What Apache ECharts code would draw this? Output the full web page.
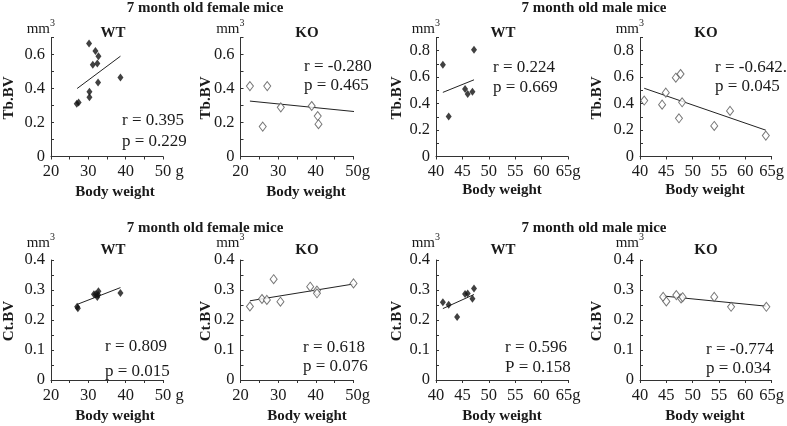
<!DOCTYPE html>
<html><head><meta charset="utf-8">
<script src="https://cdn.jsdelivr.net/npm/echarts@6/dist/echarts.min.js"></script>
<style>html,body{margin:0;padding:0;background:#fff}#c{width:787px;height:426px}</style>
</head><body><div id="c"></div>
<script>
// ---- Data ----
const wtFemTbX = [30.2, 31.9, 32.7, 31.2, 32.4, 32.6, 38.6, 30.3, 30.3, 26.9, 27.4];
const wtFemTbY = [0.664, 0.621, 0.59, 0.539, 0.547, 0.436, 0.465, 0.381, 0.348, 0.31, 0.318];
const wtFemTbFitX = [27.0, 38.6];
const wtFemTbFitY = [0.40, 0.59];

const koFemTbX = [22.5, 27.1, 25.9, 30.7, 38.9, 40.5, 40.7, 50.4];
const koFemTbY = [0.414, 0.414, 0.176, 0.289, 0.297, 0.238, 0.19, 0.355];
const koFemTbFitX = [22.5, 50.4];
const koFemTbFitY = [0.326, 0.264];

const wtMalTbX = [41.3, 47.2, 42.4, 45.5, 46.0, 46.9];
const wtMalTbY = [0.694, 0.808, 0.303, 0.51, 0.472, 0.49];
const wtMalTbFitX = [41.3, 47.2];
const wtMalTbFitY = [0.485, 0.58];

const koMalTbX = [40.8, 44.2, 44.9, 46.8, 47.7, 47.4, 48.0, 54.1, 57.1, 63.9];
const koMalTbY = [0.423, 0.392, 0.483, 0.596, 0.624, 0.289, 0.41, 0.231, 0.345, 0.158];
const koMalTbFitX = [40.8, 63.9];
const koMalTbFitY = [0.516, 0.199];

const wtFemCtX = [27.0, 27.2, 31.5, 32.0, 32.4, 32.7, 32.6, 38.6];
const wtFemCtY = [0.244, 0.239, 0.286, 0.286, 0.277, 0.296, 0.284, 0.29];
const wtFemCtFitX = [27.0, 38.6];
const wtFemCtFitY = [0.252, 0.308];

const koFemCtX = [22.5, 25.7, 27.0, 28.8, 30.6, 38.5, 40.3, 40.3, 50.0];
const koFemCtY = [0.245, 0.27, 0.267, 0.336, 0.261, 0.311, 0.298, 0.289, 0.322];
const koFemCtFitX = [22.5, 50.0];
const koFemCtFitY = [0.264, 0.32];

const wtMalCtX = [41.3, 42.4, 44.0, 45.5, 46.0, 46.9, 47.2];
const wtMalCtY = [0.259, 0.251, 0.21, 0.287, 0.288, 0.271, 0.305];
const wtMalCtFitX = [41.3, 47.2];
const wtMalCtFitY = [0.238, 0.285];

const koMalCtX = [44.4, 45.0, 46.9, 47.8, 48.1, 54.1, 57.3, 64.0];
const koMalCtY = [0.277, 0.262, 0.283, 0.272, 0.276, 0.277, 0.244, 0.244];
const koMalCtFitX = [44.4, 64.0];
const koMalCtFitY = [0.28, 0.246];

const rowTitles = ['7 month old female mice', '7 month old male mice'];
const groupNames = ['WT', 'KO', 'WT', 'KO', 'WT', 'KO', 'WT', 'KO'];
const yNames = ['Tb.BV', 'Tb.BV', 'Tb.BV', 'Tb.BV', 'Ct.BV', 'Ct.BV', 'Ct.BV', 'Ct.BV'];
const xName = 'Body weight';
const rTexts = ['r = 0.395', 'r = -0.280', 'r = 0.224', 'r = -0.642.', 'r = 0.809', 'r = 0.618', 'r = 0.596', 'r = -0.774'];
const pTexts = ['p = 0.229', 'p = 0.465', 'p = 0.669', 'p = 0.045', 'p = 0.015', 'p = 0.076', 'P = 0.158', 'p = 0.034'];
const xUnitSuffix = [' g', 'g', 'g', 'g', ' g', 'g', 'g', 'g'];

// ---- Layout ----
const FONT = '"Liberation Serif", "Times New Roman", serif';
const TXT = '#1a1a1a';
const panels = [
  {X: wtFemTbX, Y: wtFemTbY, FX: wtFemTbFitX, FY: wtFemTbFitY, wt: true,  left: 51,    top: 37.5, w: 112, h: 119, xmin: 20, xmax: 50, ymax: 0.7, row: 0, female: true},
  {X: koFemTbX, Y: koFemTbY, FX: koFemTbFitX, FY: koFemTbFitY, wt: false, left: 240.5, top: 37.5, w: 113, h: 119, xmin: 20, xmax: 50, ymax: 0.7, row: 0, female: true},
  {X: wtMalTbX, Y: wtMalTbY, FX: wtMalTbFitX, FY: wtMalTbFitY, wt: true,  left: 436,   top: 37.5, w: 132, h: 119, xmin: 40, xmax: 65, ymax: 0.9, row: 0, female: false},
  {X: koMalTbX, Y: koMalTbY, FX: koMalTbFitX, FY: koMalTbFitY, wt: false, left: 640,   top: 37.5, w: 132, h: 119, xmin: 40, xmax: 65, ymax: 0.9, row: 0, female: false},
  {X: wtFemCtX, Y: wtFemCtY, FX: wtFemCtFitX, FY: wtFemCtFitY, wt: true,  left: 51,    top: 260,  w: 112, h: 120, xmin: 20, xmax: 50, ymax: 0.4, row: 1, female: true},
  {X: koFemCtX, Y: koFemCtY, FX: koFemCtFitX, FY: koFemCtFitY, wt: false, left: 240.5, top: 260,  w: 113, h: 120, xmin: 20, xmax: 50, ymax: 0.4, row: 1, female: true},
  {X: wtMalCtX, Y: wtMalCtY, FX: wtMalCtFitX, FY: wtMalCtFitY, wt: true,  left: 436,   top: 260,  w: 132, h: 120, xmin: 40, xmax: 65, ymax: 0.4, row: 1, female: false},
  {X: koMalCtX, Y: koMalCtY, FX: koMalCtFitX, FY: koMalCtFitY, wt: false, left: 640,   top: 260,  w: 132, h: 120, xmin: 40, xmax: 65, ymax: 0.4, row: 1, female: false}
];
// text positions
const groupPos = [[113, 33], [307, 33], [503, 33], [706, 33], [113, 250], [307, 250], [503, 250], [706, 250]];
const xNamePos = [[115, 192.5], [306, 192.5], [502, 190.5], [705, 190.5], [115, 416.5], [307, 416.5], [502, 416.5], [705, 416.5]];
const yNameX = [9.5, 206, 397.5, 597.5, 9.5, 206, 397.5, 597.5];
const rPos = [[122, 121, 142], [304, 67, 86], [493, 68, 88], [715, 68, 87], [105, 347, 372], [303, 348, 367], [505, 348, 368], [706, 350, 369]];
const titlePos = [[205, 8.5], [594, 8.5], [205, 228], [594, 228]];

const option = {
  animation: false,
  backgroundColor: '#fff',
  grid: [], xAxis: [], yAxis: [], series: [], graphic: []
};

panels.forEach((p, i) => {
  option.grid.push({left: p.left, top: p.top, width: p.w, height: p.h, containLabel: false});
  const suffix = xUnitSuffix[i];
  option.xAxis.push({
    type: 'value', gridIndex: i, min: p.xmin, max: p.xmax, interval: 5,
    splitLine: {show: false},
    axisLine: {show: true, onZero: false, lineStyle: {color: '#333', width: 1}},
    axisTick: {show: true, inside: false, length: 3, lineStyle: {color: '#333', width: 1}},
    axisLabel: {
      margin: 7, fontFamily: FONT, fontSize: 16.5, color: TXT,
      showMinLabel: true, showMaxLabel: true, hideOverlap: false,
      formatter: function (v) {
        const k = Math.round(v);
        if (p.female && k % 10 !== 0) return '';
        if (k === p.xmax) {
          if (p.female) return '{h|' + suffix + '}' + k + suffix;
          return k + suffix;
        }
        return String(k);
      },
      rich: {h: {color: 'rgba(0,0,0,0)', fontFamily: FONT, fontSize: 16.5}}
    }
  });
  const step = p.row === 0 ? 0.1 : 0.05;
  option.yAxis.push({
    type: 'value', gridIndex: i, min: 0, max: p.ymax, interval: step,
    splitLine: {show: false},
    axisLine: {show: true, onZero: false, lineStyle: {color: '#333', width: 1}},
    axisTick: {show: true, inside: true, length: 3, lineStyle: {color: '#333', width: 1}},
    axisLabel: {
      margin: 6, fontFamily: FONT, fontSize: 16.5, color: TXT,
      showMinLabel: true, showMaxLabel: true, hideOverlap: false,
      formatter: function (v) {
        if (p.row === 0) {
          const k = Math.round(v * 10);
          if (k % 2 !== 0) return '';
          return k === 0 ? '0' : (k / 10).toFixed(1);
        } else {
          const k = Math.round(v * 100);
          if (k % 10 !== 0) return '';
          return k === 0 ? '0' : (k / 100).toFixed(1);
        }
      }
    }
  });
  option.series.push({
    type: 'line', xAxisIndex: i, yAxisIndex: i, silent: true,
    data: p.FX.map((x, j) => [x, p.FY[j]]),
    symbol: 'none', lineStyle: {color: '#222', width: 1}, z: 1
  });
  option.series.push({
    type: 'scatter', xAxisIndex: i, yAxisIndex: i, silent: true,
    data: p.X.map((x, j) => [x, p.Y[j]]),
    symbol: 'diamond', symbolSize: p.wt ? [6, 8] : [7, 9],
    itemStyle: p.wt ? {color: '#111', borderWidth: 0}
                    : {color: '#fff', borderColor: '#555', borderWidth: 1},
    z: 3
  });

  const ax = p.left;
  const my = p.row === 0 ? 29.5 : 243.5;
  option.graphic.push(
    {type: 'text', x: ax - 1, y: my, style: {text: 'mm', font: '15px ' + FONT, fill: TXT, align: 'right', verticalAlign: 'middle'}},
    {type: 'text', x: ax - 1, y: my - 6, style: {text: '3', font: '10px ' + FONT, fill: TXT, align: 'left', verticalAlign: 'middle'}},
    {type: 'text', x: groupPos[i][0], y: groupPos[i][1], style: {text: groupNames[i], font: 'bold 15px ' + FONT, fill: TXT, align: 'center', verticalAlign: 'middle'}},
    {type: 'text', x: xNamePos[i][0], y: xNamePos[i][1], style: {text: xName, font: 'bold 15px ' + FONT, fill: TXT, align: 'center', verticalAlign: 'middle'}},
    {type: 'text', x: yNameX[i], y: p.top + p.h / 2 + 1, rotation: Math.PI / 2, style: {text: yNames[i], font: 'bold 15px ' + FONT, fill: TXT, align: 'center', verticalAlign: 'middle'}},
    {type: 'text', x: rPos[i][0], y: rPos[i][1], style: {text: rTexts[i], font: '17px ' + FONT, fill: TXT, align: 'left', verticalAlign: 'middle'}},
    {type: 'text', x: rPos[i][0], y: rPos[i][2], style: {text: pTexts[i], font: '17px ' + FONT, fill: TXT, align: 'left', verticalAlign: 'middle'}}
  );
});

titlePos.forEach((t, i) => {
  option.graphic.push({type: 'text', x: t[0], y: t[1], style: {text: rowTitles[i % 2], font: 'bold 15px ' + FONT, fill: TXT, align: 'center', verticalAlign: 'middle'}});
});

const chart = echarts.init(document.getElementById('c'), null, {renderer: 'canvas'});
chart.setOption(option);
</script>
</body></html>
